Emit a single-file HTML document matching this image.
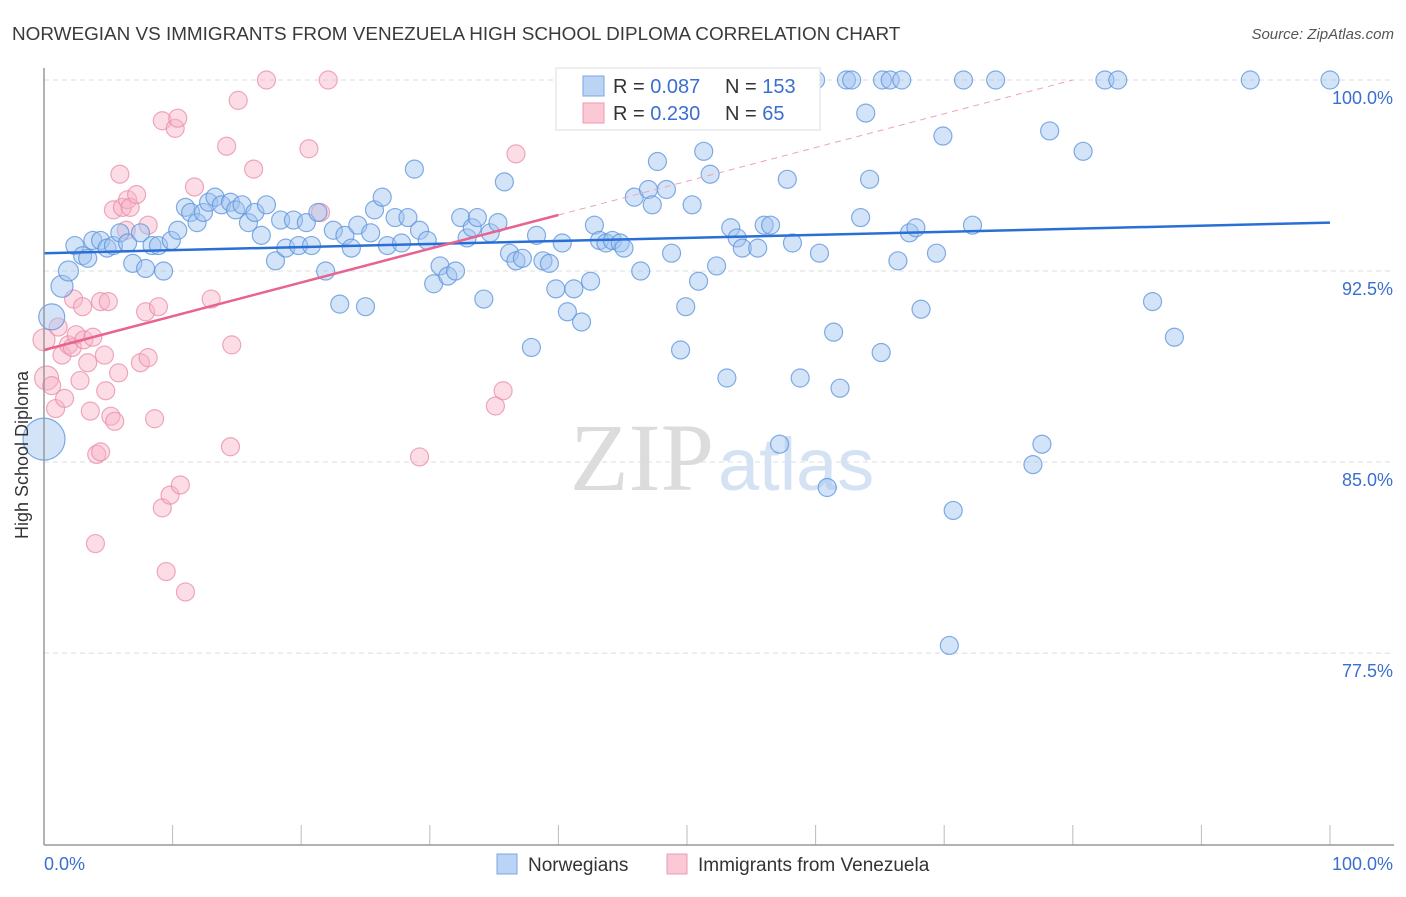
<!DOCTYPE html>
<html><head><meta charset="utf-8"><style>
body{margin:0;background:#fff;width:1406px;height:892px;overflow:hidden;font-family:"Liberation Sans",sans-serif}
</style></head><body>
<svg width="1406" height="892" xmlns="http://www.w3.org/2000/svg">
<text x="12" y="40" font-size="18.9" fill="#3a3a3a">NORWEGIAN VS IMMIGRANTS FROM VENEZUELA HIGH SCHOOL DIPLOMA CORRELATION CHART</text>
<text x="1394" y="39" font-size="15" fill="#555" font-style="italic" text-anchor="end">Source: ZipAtlas.com</text>
<g id="grid"></g>
<text x="714" y="490" font-size="96" fill="#dcdcdc" text-anchor="end" font-family="Liberation Serif">ZIP</text>
<text x="718" y="490" font-size="74" fill="#d4e2f4">atlas</text>
<g id="pts"></g>
<g id="trend"></g>
<line x1="44" y1="68" x2="44" y2="845" stroke="#999" stroke-width="1.5"/>
<line x1="44" y1="845" x2="1394" y2="845" stroke="#999" stroke-width="1.5"/>
<text x="28" y="455" font-size="18" fill="#333" text-anchor="middle" transform="rotate(-90 28 455)">High School Diploma</text>
<text x="44" y="870" font-size="18" fill="#3a6fd0">0.0%</text>
<text x="1393" y="870" font-size="18" fill="#3a6fd0" text-anchor="end">100.0%</text>
<g>
<rect x="556" y="68" width="264" height="62" fill="#fff" stroke="#ddd"/>
<rect x="583" y="76" width="21" height="20" fill="#bcd4f4" stroke="#7aa5e5"/>
<rect x="583" y="103" width="21" height="20" fill="#fbc8d6" stroke="#ee9ab2"/>
<text x="613" y="93" font-size="20" fill="#333">R = <tspan fill="#3a6fd0">0.087</tspan></text>
<text x="725" y="93" font-size="20" fill="#333">N = <tspan fill="#3a6fd0">153</tspan></text>
<text x="613" y="120" font-size="20" fill="#333">R = <tspan fill="#3a6fd0">0.230</tspan></text>
<text x="725" y="120" font-size="20" fill="#333">N = <tspan fill="#3a6fd0"> 65</tspan></text>
</g>
<g>
<rect x="497" y="854" width="20" height="20" fill="#bcd4f4" stroke="#7aa5e5"/>
<text x="528" y="871" font-size="19" fill="#333">Norwegians</text>
<rect x="667" y="854" width="20" height="20" fill="#fbc8d6" stroke="#ee9ab2"/>
<text x="698" y="871" font-size="19" fill="#333">Immigrants from Venezuela</text>
</g>
</svg>
<script>
const yTicks=[100,92.5,85,77.5];
const yTickLabels=["100.0%","92.5%","85.0%","77.5%"];
const xTicks=[0,10,20,30,40,50,60,70,80,90,100];
const blueX=[0.0,0.6,1.4,1.9,2.4,3.0,3.4,3.8,4.4,4.9,5.4,5.9,6.5,6.9,7.5,7.9,8.4,8.9,9.3,9.9,10.4,11.0,11.4,11.9,12.4,12.8,13.3,13.8,14.5,14.9,15.4,15.9,16.4,16.9,17.3,18.0,18.4,18.8,19.4,19.8,20.4,20.8,21.3,21.9,22.5,23.0,23.4,23.9,24.4,25.0,25.4,25.7,26.3,26.7,27.3,27.8,28.3,28.8,29.2,29.8,30.3,30.8,31.4,32.0,32.4,32.9,33.3,33.7,34.2,34.7,35.3,35.8,36.2,36.7,37.2,37.9,38.3,38.8,39.3,39.8,40.3,40.7,41.2,41.8,42.5,42.8,43.2,43.7,44.2,44.8,45.1,45.9,46.4,47.0,47.3,47.7,48.4,48.8,49.5,49.9,50.4,50.9,51.3,51.8,52.3,53.1,53.4,53.9,54.3,54.7,55.5,56.0,56.5,57.2,57.8,58.2,58.8,60.0,60.3,60.9,61.4,61.9,62.4,62.8,63.5,63.9,64.2,65.1,65.2,65.8,66.4,66.7,67.3,67.8,68.2,69.4,69.9,70.7,70.4,71.5,72.2,74.0,76.9,77.6,78.2,80.8,82.5,83.5,86.2,87.9,93.8,100];
const blueY=[85.9,90.7,91.9,92.5,93.5,93.1,93.0,93.7,93.7,93.4,93.5,94.0,93.6,92.8,94.0,92.6,93.5,93.5,92.5,93.7,94.1,95.0,94.8,94.4,94.8,95.2,95.4,95.1,95.2,94.9,95.1,94.4,94.8,93.9,95.1,92.9,94.5,93.4,94.5,93.5,94.4,93.5,94.8,92.5,94.1,91.2,93.9,93.4,94.3,91.1,94.0,94.9,95.4,93.5,94.6,93.6,94.6,96.5,94.1,93.7,92.0,92.7,92.3,92.5,94.6,93.8,94.2,94.6,91.4,94.0,94.4,96.0,93.2,92.9,93.0,89.5,93.9,92.9,92.8,91.8,93.6,90.9,91.8,90.5,92.1,94.3,93.7,93.6,93.7,93.6,93.4,95.4,92.5,95.7,95.1,96.8,95.7,93.2,89.4,91.1,95.1,92.1,97.2,96.3,92.7,88.3,94.2,93.8,93.4,100,93.4,94.3,94.3,85.7,96.1,93.6,88.3,100,93.2,84.0,90.1,87.9,100,100,94.6,98.7,96.1,89.3,100,100,92.9,100,94.0,94.2,91.0,93.2,97.8,83.1,77.8,100,94.3,100,84.9,85.7,98.0,97.2,100,100,91.3,89.9,100,100];
const blueSize=[21,13,11,10];
const pinkX=[0.0,0.2,0.6,0.9,1.1,1.4,1.6,1.9,2.2,2.3,2.5,2.8,3.0,3.1,3.4,3.6,3.8,4.0,4.1,4.4,4.4,4.7,4.8,5.0,5.2,5.4,5.5,5.8,5.9,6.1,6.4,6.5,6.7,7.2,7.5,7.9,8.1,8.1,8.6,8.9,9.2,9.5,9.2,9.8,10.2,10.4,10.6,11.0,11.7,13.0,14.2,14.5,14.6,15.1,16.3,17.3,20.6,21.5,22.1,29.2,35.1,35.7,36.7];
const pinkY=[89.8,88.3,88.0,87.1,90.3,89.2,87.5,89.6,89.5,91.4,90.0,88.2,91.1,89.8,88.9,87.0,89.9,81.8,85.3,91.3,85.4,89.2,87.8,91.3,86.8,94.9,86.6,88.5,96.3,95.0,94.1,95.3,95.0,95.5,88.9,90.9,94.3,89.1,86.7,91.1,98.4,80.7,83.2,83.7,98.1,98.5,84.1,79.9,95.8,91.4,97.4,85.6,89.6,99.2,96.5,100,97.3,94.8,100,85.2,87.2,87.8,97.1];
const pinkSize=[11,12];
const blueTrend=[93.2,94.4];
const pinkTrend=[89.4,0.1325];
const NS="http://www.w3.org/2000/svg";
function sx(v){return 44+v*12.86;}
function sy(v){return 80+(100-v)*25.47;}
function mk(t,a,p){const e=document.createElementNS(NS,t);for(const k in a)e.setAttribute(k,a[k]);p.appendChild(e);return e;}
const grid=document.getElementById('grid');
yTicks.forEach((t,i)=>{
 const l=mk('line',{x1:44,x2:1394,y1:sy(t),y2:sy(t),stroke:'#ddd','stroke-dasharray':'5,4'},grid);
 
 
 const tx=mk('text',{x:1393,y:sy(t)+24,'font-size':18,fill:'#3a6fd0','text-anchor':'end'},grid);
 tx.textContent=yTickLabels[i];
 
 
});
xTicks.forEach(t=>{
 const l=mk('line',{x1:sx(t),x2:sx(t),y1:825,y2:845,stroke:'#bbb'},grid);
 
 
});
const pts=document.getElementById('pts');
pinkX.forEach((x,i)=>{
 const c=mk('circle',{cx:sx(x),cy:sy(pinkY[i]),r:pinkSize[i]||9,fill:'rgba(248,180,200,0.45)',stroke:'rgba(232,140,170,0.75)','stroke-width':1.2},pts);
 
 
});
blueX.forEach((x,i)=>{
 const c=mk('circle',{cx:sx(x),cy:sy(blueY[i]),r:blueSize[i]||9,fill:'rgba(160,195,240,0.45)',stroke:'rgba(90,145,220,0.75)','stroke-width':1.2},pts);
 
 
});
const tr=document.getElementById('trend');
const bl=mk('line',{x1:sx(0),y1:sy(blueTrend[0]),x2:sx(100),y2:sy(blueTrend[1]),stroke:'#2a6fd6','stroke-width':2.5},tr);


const xEnd=(100-pinkTrend[0])/pinkTrend[1];
const pd=mk('line',{x1:sx(40),y1:sy(pinkTrend[0]+40*pinkTrend[1]),x2:sx(xEnd),y2:sy(100),stroke:'#f0a0b8','stroke-width':1,'stroke-dasharray':'6,5'},tr);


const pl=mk('line',{x1:sx(0),y1:sy(pinkTrend[0]),x2:sx(40),y2:sy(pinkTrend[0]+40*pinkTrend[1]),stroke:'#e8638f','stroke-width':2.5},tr);


</script>
</body></html>
